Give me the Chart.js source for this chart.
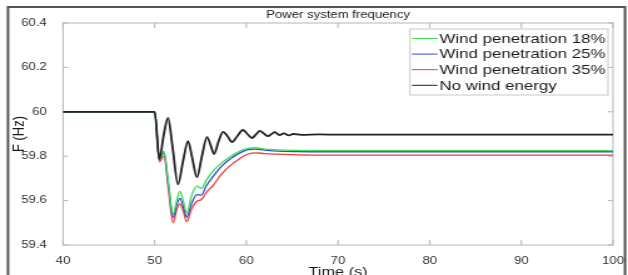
<!DOCTYPE html>
<html>
<head>
<meta charset="utf-8">
<script src="https://cdn.jsdelivr.net/npm/chart.js@4.4.1/dist/chart.umd.min.js"></script>
<style>
  html, body { margin: 0; padding: 0; background: #fff; overflow: hidden; }
  #c { transform: scaleX(1.251); transform-origin: 0 0; display: block; }
</style>
</head>
<body>
<canvas id="c" width="502" height="275"></canvas>
<script>
// values
var chartTitle = 'Power system frequency';
var seriesLabels = ['Wind penetration 18%', 'Wind penetration 25%', 'Wind penetration 35%', 'No wind energy'];
var seriesColors = ['#3fdc5a', '#2f4fd0', '#f03c3c', '#222222'];

var xTicks = [40, 50, 60, 70, 80, 90, 100];
var yTicks = [59.4, 59.6, 59.8, 60, 60.2, 60.4];
var yTickLabels = ['59.4', '59.6', '59.8', '60', '60.2', '60.4'];

var windTimes = [40, 50, 50.5, 51, 51.5, 52, 52.4, 52.75, 53.1, 53.5, 54, 54.6, 55.1, 55.6, 56.4, 57.3, 58.3, 59.3, 60.2, 61, 62, 64, 67, 70, 100];
var wind18 = [60, 60, 59.786, 59.823, 59.68, 59.54, 59.6, 59.642, 59.6, 59.545, 59.62, 59.665, 59.655, 59.69, 59.735, 59.77, 59.80, 59.823, 59.835, 59.838, 59.832, 59.827, 59.825, 59.825, 59.825];
var wind25 = [60, 60, 59.786, 59.815, 59.67, 59.525, 59.58, 59.61, 59.575, 59.525, 59.585, 59.627, 59.625, 59.665, 59.71, 59.755, 59.79, 59.815, 59.83, 59.832, 59.827, 59.822, 59.82, 59.82, 59.82];
var wind35 = [60, 60, 59.775, 59.80, 59.65, 59.5, 59.56, 59.585, 59.555, 59.505, 59.56, 59.597, 59.605, 59.635, 59.67, 59.72, 59.76, 59.79, 59.81, 59.815, 59.812, 59.808, 59.805, 59.805, 59.805];

var noWindTimes = [40, 50, 50.5, 51, 51.45, 51.95, 52.54, 53.1, 53.63, 54.1, 54.6, 55.15, 55.7, 56.1, 56.47, 56.95, 57.45, 57.95, 58.43, 59, 59.63, 60.1, 60.6, 61.05, 61.48, 61.9, 62.36, 62.75, 63.1, 63.6, 64.1, 64.6, 65.1, 66, 68, 70, 100];
var noWind = [60, 60, 59.786, 59.9, 59.973, 59.84, 59.673, 59.78, 59.868, 59.79, 59.705, 59.8, 59.886, 59.85, 59.81, 59.865, 59.91, 59.89, 59.864, 59.89, 59.918, 59.9, 59.882, 59.898, 59.914, 59.902, 59.89, 59.9, 59.908, 59.895, 59.903, 59.894, 59.9, 59.896, 59.898, 59.897, 59.897];

var FONT = '"Liberation Sans", Arial, sans-serif';
var SX = 1.251; // canvas gets stretched horizontally like the original figure

function punti(tempi, valori) {
    var out = [];
    for (var i = 0; i < tempi.length; i++) {
        out.push({ x: tempi[i], y: valori[i] });
    }
    return out;
}

function serie(idx, dati, larghezza, ordine) {
    return {
        label: seriesLabels[idx],
        data: dati,
        borderColor: seriesColors[idx],
        borderWidth: larghezza,
        pointRadius: 0,
        fill: false,
        cubicInterpolationMode: 'monotone',
        order: ordine
    };
}

// white background, outer frame, axes box with inward ticks, title
var cornice = {
    id: 'cornice',
    beforeDraw: function(chart) {
        var ctx = chart.ctx;
        ctx.save();
        ctx.fillStyle = '#fff';
        ctx.fillRect(0, 0, chart.width, chart.height);
        ctx.strokeStyle = '#555';
        ctx.lineWidth = 2;
        ctx.strokeRect(6.4, 7, 493.2, 290);
        ctx.restore();
    },
    beforeDatasetsDraw: function(chart) {
        var ctx = chart.ctx;
        var a = chart.chartArea;
        var sx = chart.scales.x, sy = chart.scales.y;
        ctx.save();
        ctx.strokeStyle = '#b5b5b5';
        ctx.lineWidth = 1;
        ctx.strokeRect(a.left, a.top, a.right - a.left, a.bottom - a.top);
        ctx.beginPath();
        xTicks.forEach(function(v) {
            var px = sx.getPixelForValue(v);
            ctx.moveTo(px, a.bottom); ctx.lineTo(px, a.bottom - 5);
            ctx.moveTo(px, a.top); ctx.lineTo(px, a.top + 5);
        });
        yTicks.forEach(function(v) {
            var py = sy.getPixelForValue(v);
            ctx.moveTo(a.left, py); ctx.lineTo(a.left + 4, py);
            ctx.moveTo(a.right, py); ctx.lineTo(a.right - 4, py);
        });
        ctx.stroke();
        ctx.fillStyle = '#222';
        ctx.font = '10.5px ' + FONT;
        ctx.textAlign = 'center';
        ctx.textBaseline = 'middle';
        ctx.fillText(chartTitle, (a.left + a.right) / 2, 15.5);
        ctx.restore();
    }
};

// legend box inside the plot, top right
var legenda = {
    id: 'legenda',
    afterDatasetsDraw: function(chart) {
        var ctx = chart.ctx;
        var x0 = 327.7, y0 = 29, w = 158.3, h = 66;
        ctx.save();
        ctx.fillStyle = '#fff';
        ctx.fillRect(x0, y0, w, h);
        ctx.strokeStyle = '#c8c8c8';
        ctx.lineWidth = 1;
        ctx.strokeRect(x0, y0, w, h);
        ctx.font = '13.5px ' + FONT;
        ctx.textBaseline = 'middle';
        ctx.textAlign = 'left';
        chart.data.datasets.forEach(function(ds, i) {
            var y = 38.5 + i * 15.6;
            ctx.strokeStyle = ds.borderColor;
            ctx.lineWidth = 1;
            ctx.beginPath();
            ctx.moveTo(x0 + 1.5, y);
            ctx.lineTo(x0 + 22, y);
            ctx.stroke();
            ctx.fillStyle = '#1a1a1a';
            ctx.fillText(ds.label, x0 + 23.5, y + 0.5);
        });
        ctx.restore();
    }
};

var chart = new Chart(document.getElementById('c'), {
    type: 'line',
    data: {
        datasets: [
            serie(0, punti(windTimes, wind18), 1.3, 1),
            serie(1, punti(windTimes, wind25), 1.3, 2),
            serie(2, punti(windTimes, wind35), 1.3, 3),
            serie(3, punti(noWindTimes, noWind), 1.8, 0)
        ]
    },
    options: {
        responsive: false,
        animation: false,
        devicePixelRatio: 1,
        layout: { padding: { top: 23, right: 12, left: 0, bottom: 0 } },
        plugins: {
            legend: { display: false },
            tooltip: { enabled: false },
            title: { display: false }
        },
        scales: {
            x: {
                type: 'linear',
                min: 40,
                max: 100,
                afterBuildTicks: function(s) {
                    s.ticks = xTicks.map(function(v) { return { value: v }; });
                },
                afterFit: function(s) { s.height = 30; },
                grid: { display: false },
                border: { display: false },
                ticks: {
                    padding: 2,
                    maxRotation: 0,
                    color: '#333',
                    font: { family: FONT, size: 10.5 },
                    callback: function(v) { return String(v); }
                },
                title: {
                    display: true,
                    text: 'Time (s)',
                    color: '#1a1a1a',
                    padding: { top: 0, bottom: -4 },
                    font: { family: FONT, size: 13, lineHeight: 1 }
                }
            },
            y: {
                type: 'linear',
                min: 59.4,
                max: 60.4,
                afterBuildTicks: function(s) {
                    s.ticks = yTicks.map(function(v) { return { value: v }; });
                },
                afterFit: function(s) { s.width = 50.4; },
                grid: { display: false },
                border: { display: false },
                ticks: {
                    padding: 5,
                    color: '#333',
                    font: { family: FONT, size: 10.5 },
                    callback: function(v, i) { return yTickLabels[i]; }
                },
                title: {
                    display: true,
                    text: 'F (Hz)',
                    color: '#1a1a1a',
                    padding: { top: 7.4, bottom: 0 },
                    font: { family: FONT, size: 13, lineHeight: 1.2 }
                }
            }
        }
    },
    plugins: [cornice, legenda]
});
</script>
</body>
</html>
